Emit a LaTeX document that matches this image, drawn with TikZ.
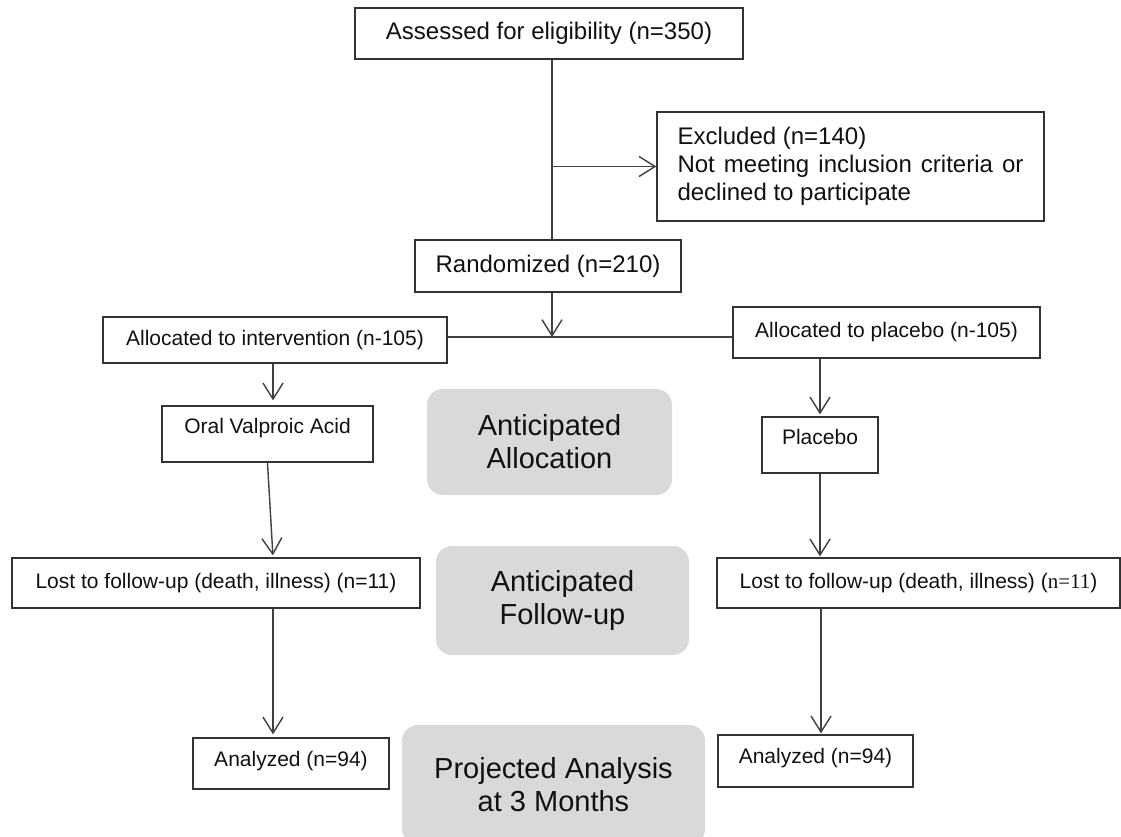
\documentclass[tikz,border=0pt]{standalone}
\usepackage{fontspec}
\setmainfont{Liberation Sans}
\newfontfamily\serifnum{Liberation Serif}
\usetikzlibrary{arrows.meta}
\definecolor{linegray}{HTML}{404040}
\definecolor{boxgray}{HTML}{D9D9D9}
\definecolor{inkc}{HTML}{111111}
\begin{document}
\begin{tikzpicture}[x=1pt,y=-1pt,
  box/.style={draw=black!80, line width=1.3pt, fill=white, inner sep=0pt, text=inkc},
  s21/.style={font=\fontsize{21}{25}\selectfont, text height=15pt, text depth=4.5pt},
  s24/.style={font=\fontsize{24}{28}\selectfont, text height=17.3pt, text depth=5pt},
  grey/.style={fill=boxgray, rounded corners=16pt, inner sep=0pt, align=center, text=inkc, font=\fontsize{29}{33}\selectfont},
  ln/.style={draw=linegray, line width=1.4pt},
  arr/.style={draw=linegray, line width=1.4pt, -{Straight Barb[length=16pt,width=20pt]}}]
\useasboundingbox (0,0) rectangle (1121,837);
\clip (0,0) rectangle (1121,837);
\fill[white] (0,0) rectangle (1121,837);

% boxes
\node[box,s24,minimum width=388,minimum height=51] (assess) at (549,33.5) {Assessed for eligibility (n=350)};
\node[box,font=\fontsize{24}{28}\selectfont,minimum width=387,minimum height=109,text width=346,align=justify] (excl) at (850.5,166.5) {Excluded (n=140)\\Not meeting inclusion criteria or declined to participate};
\node[box,s24,minimum width=266,minimum height=52] (rand) at (548,266) {Randomized (n=210)};
\node[box,s21,minimum width=344,minimum height=46] (alloI) at (275,340) {Allocated to intervention (n-105)};
\node[box,s21,minimum width=307,minimum height=51] (alloP) at (886.5,332.5) {Allocated to placebo (n-105)};
\node[box,s21,minimum width=211,minimum height=56] (oral) at (267.5,434) {\raisebox{6pt}{Oral Valproic Acid}};
\node[box,s21,minimum width=116,minimum height=56] (placebo) at (820,445) {\raisebox{6pt}{Placebo}};
\node[box,s21,minimum width=408,minimum height=50] (lostL) at (216,583) {Lost to follow-up (death, illness) (n=11)};
\node[box,s21,minimum width=403,minimum height=50] (lostR) at (918.5,583) {Lost to follow-up (death, illness) ({\serifnum n=11})};
\node[box,s21,minimum width=196,minimum height=51] (anaL) at (291,763.5) {\raisebox{2.5pt}{Analyzed (n=94)}};
\node[box,s21,minimum width=195,minimum height=52] (anaR) at (815.5,761) {\raisebox{3pt}{Analyzed (n=94)}};

% grey stage labels
\node[grey,minimum width=245,minimum height=106] (gA) at (549.5,442) {Anticipated\\Allocation};
\node[grey,minimum width=253,minimum height=109] (gF) at (562.5,600.5) {Anticipated\\Follow-up};
\node[grey,minimum width=303,minimum height=120] (gP) at (553.5,785) {Projected Analysis\\at 3 Months};

% connectors
\coordinate (sp) at (552,0);
\coordinate (hl) at (552,337);
\coordinate (cl) at (273,0);
\coordinate (cr) at (820,0);
\coordinate (cr2) at (821,0);
\draw[ln] (assess.south -| sp) -- (rand.north -| sp);
\draw[arr] (sp |- excl.west) -- (excl.west);
\draw[arr] (rand.south -| sp) -- (hl);
\draw[ln] (alloI.east |- hl) -- (alloP.west |- hl);
\draw[arr,shorten >=5pt] (alloI.south -| cl) -- (oral.north -| cl);
\draw[arr,shorten >=2pt] (alloP.south -| cr) -- (placebo.north);
\draw[arr,shorten >=2pt] (oral.south) -- (lostL.north -| cl);
\draw[arr,shorten >=1pt] (placebo.south) -- (lostR.north -| cr);
\draw[arr,shorten >=3pt] (lostL.south -| cl) -- (anaL.north -| cl);
\draw[arr,shorten >=1pt] (lostR.south -| cr2) -- (anaR.north -| cr2);
\end{tikzpicture}
\end{document}
